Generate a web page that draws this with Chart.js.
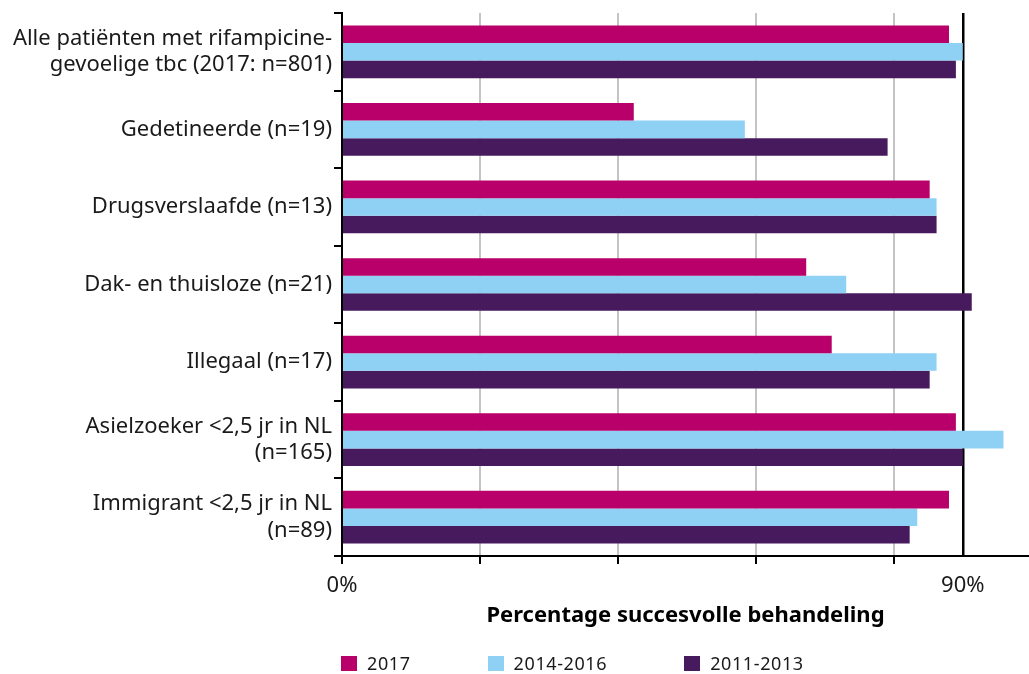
<!DOCTYPE html>
<html>
<head>
    <meta charset="utf-8">
    <title>Percentage succesvolle behandeling</title>
    <script src="https://cdn.jsdelivr.net/npm/chart.js"></script>
    <style>
        body {
            margin: 0;
            background-color: #fff;
            font-family: "Noto Sans", sans-serif;
        }

        .wrap {
            position: relative;
            width: 1029px;
            height: 674px;
        }

        /* legend sits under the axis title */
        #legend {
            position: absolute;
            left: 341px;
            top: 654px;
            display: flex;
            font-size: 18px;
            letter-spacing: 0.6px;
            color: #1a1a1a;
            line-height: 18px;
        }

        .legend-item {
            display: flex;
            align-items: center;
            margin-right: 77px;
        }

        .legend-box {
            width: 16px;
            height: 15px;
            margin-right: 10px;
        }
    </style>
</head>
<body>
    <div class="wrap">
        <canvas id="chart" width="1029" height="674"></canvas>
        <div id="legend"></div>
    </div>

    <script>
        // categories (top to bottom)
        var categories = [
            ['Alle patiënten met rifampicine-', 'gevoelige tbc (2017: n=801)'],
            'Gedetineerde (n=19)',
            'Drugsverslaafde (n=13)',
            'Dak- en thuisloze (n=21)',
            'Illegaal (n=17)',
            ['Asielzoeker <2,5 jr in NL', '(n=165)'],
            ['Immigrant <2,5 jr in NL', '(n=89)']
        ];

        // percentage succesvolle behandeling per periode
        var values2017 = [88.0, 42.3, 85.2, 67.3, 71.0, 89.0, 88.0];
        var values2014_2016 = [90.0, 58.4, 86.2, 73.1, 86.2, 95.9, 83.4];
        var values2011_2013 = [89.0, 79.1, 86.2, 91.3, 85.2, 90.0, 82.3];

        var seriesNames = ['2017', '2014-2016', '2011-2013'];

        // x axis: grid lines and the two labelled ticks
        var gridTicks = [0, 20, 40, 60, 80, 90];
        var labelledTicks = [0, 90];
        var targetValue = 90;
        var xMax = 99.6;

        var colors = ['#b9006a', '#8fd1f4', '#461a5c'];

        Chart.defaults.font.family = '"Noto Sans", sans-serif';
        Chart.defaults.color = '#1a1a1a';

        var ctx = document.getElementById('chart').getContext('2d');
        var chart = new Chart(ctx, {
            type: 'bar',
            data: {
                labels: categories,
                datasets: [
                    { label: seriesNames[0], data: values2017, backgroundColor: colors[0] },
                    { label: seriesNames[1], data: values2014_2016, backgroundColor: colors[1] },
                    { label: seriesNames[2], data: values2011_2013, backgroundColor: colors[2] }
                ]
            },
            options: {
                indexAxis: 'y',
                responsive: false,
                animation: false,
                categoryPercentage: 0.68,
                barPercentage: 1.0,
                layout: {
                    padding: { top: 13, left: 0, right: 0, bottom: 41 }
                },
                plugins: {
                    legend: { display: false },
                    tooltip: { enabled: false }
                },
                scales: {
                    x: {
                        min: 0,
                        max: xMax,
                        afterBuildTicks: function (scale) {
                            scale.ticks = gridTicks.map(function (v) { return { value: v }; });
                        },
                        afterFit: function (scale) {
                            scale.height = 77;
                        },
                        ticks: {
                            autoSkip: false,
                            maxRotation: 0,
                            padding: 9,
                            font: { size: 22 },
                            color: '#1a1a1a',
                            callback: function (value) {
                                return labelledTicks.indexOf(value) >= 0 ? value + '%' : '';
                            }
                        },
                        grid: {
                            color: function (c) {
                                return c.tick && c.tick.value === targetValue ? '#000' : '#c4c4c4';
                            },
                            lineWidth: function (c) {
                                return c.tick && c.tick.value === targetValue ? 2.5 : 2;
                            },
                            tickColor: function (c) {
                                return c.tick && c.tick.value === targetValue ? 'rgba(0,0,0,0)' : '#000';
                            },
                            tickWidth: 2,
                            tickLength: 8
                        },
                        border: { color: '#000', width: 2 },
                        title: {
                            display: true,
                            text: 'Percentage succesvolle behandeling',
                            font: { size: 22, weight: 'bold' },
                            color: '#000',
                            padding: { top: 0, bottom: 4 }
                        }
                    },
                    y: {
                        afterFit: function (scale) {
                            scale.width = 342;
                            // labels sit mid-category, so no extra room needed above/below
                            scale.paddingTop = 0;
                            scale.paddingBottom = 0;
                        },
                        ticks: {
                            padding: 2,
                            font: { size: 22, lineHeight: 1.2 },
                            color: '#1a1a1a'
                        },
                        grid: {
                            offset: true,
                            drawOnChartArea: false,
                            color: '#000',
                            lineWidth: 2,
                            tickLength: 8
                        },
                        border: { color: '#000', width: 2 }
                    }
                }
            }
        });

        // legend built from the chart datasets
        var legend = document.getElementById('legend');
        chart.data.datasets.forEach(function (ds) {
            var item = document.createElement('div');
            item.className = 'legend-item';
            var box = document.createElement('span');
            box.className = 'legend-box';
            box.style.backgroundColor = ds.backgroundColor;
            var text = document.createElement('span');
            text.textContent = ds.label;
            item.appendChild(box);
            item.appendChild(text);
            legend.appendChild(item);
        });
    </script>
</body>
</html>
